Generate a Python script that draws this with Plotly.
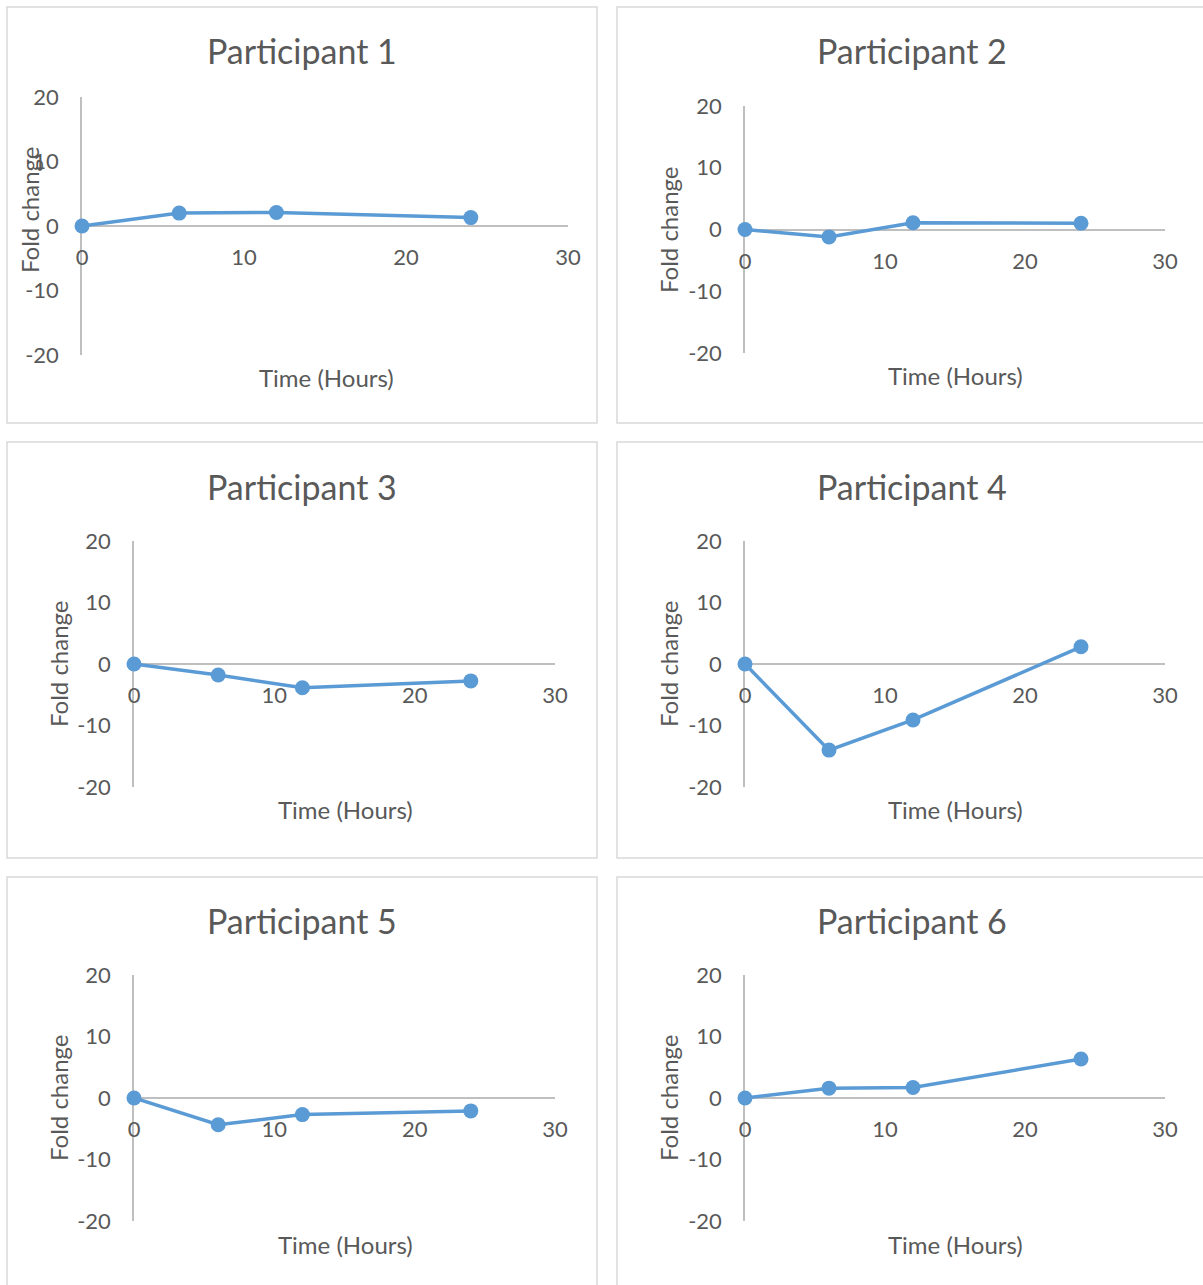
import plotly.graph_objects as go

# Sampling times (hours) shared by all participants
hours = [0, 6, 12, 24]

# Fold change per participant at each sampling time
participant_1 = [0, 2.0, 2.1, 1.3]
participant_2 = [0, -1.2, 1.1, 1.0]
participant_3 = [0, -1.8, -3.85, -2.75]
participant_4 = [0, -14.0, -9.1, 2.8]
participant_5 = [0, -4.35, -2.7, -2.1]
participant_6 = [0, 1.6, 1.7, 6.35]

panel_titles = ["Participant 1", "Participant 2", "Participant 3",
                "Participant 4", "Participant 5", "Participant 6"]
series = [participant_1, participant_2, participant_3,
          participant_4, participant_5, participant_6]

x_ticks = [0, 10, 20, 30]
y_ticks = [-20, -10, 0, 10, 20]

W, H = 1203, 1285
FONT = "Lato, 'Open Sans', sans-serif"
TEXT = "#595959"
AXIS = "#BFBFBF"
BLUE = "#5B9BD5"


def px_x(v):
    return v / W


def px_y(v):
    return 1 - v / H


# Plot-area rectangles for each panel in pixels: (left, right, top, bottom)
plot_boxes = [
    (82, 568, 97, 355),
    (745, 1165, 106, 353),
    (134, 555, 541, 787),
    (745, 1165, 541, 787),
    (134, 555, 975, 1221),
    (745, 1165, 975, 1221),
]
# Panel frames in pixels: (left, right, top, bottom)
frames = [
    (7, 597, 7, 423),
    (617, 1215, 7, 423),
    (7, 597, 442, 858),
    (617, 1215, 442, 858),
    (7, 597, 877, 1295),
    (617, 1215, 877, 1295),
]
title_pos = [(302, 51), (912, 51), (302, 486), (912, 486), (302, 920), (912, 920)]
ytitle_pos = [(30, 210), (668, 230), (58, 664), (668, 664), (58, 1098), (668, 1098)]
xtitle_pos = [(326, 377), (955, 375), (345, 809), (955, 809), (345, 1244), (955, 1244)]

fig = go.Figure()
layout = dict(
    width=W, height=H,
    margin=dict(l=0, r=0, t=0, b=0, pad=0, autoexpand=False),
    paper_bgcolor="white", plot_bgcolor="rgba(0,0,0,0)",
    showlegend=False,
    font=dict(family=FONT, color=TEXT),
)
annotations = []
shapes = []

for i, (vals, title) in enumerate(zip(series, panel_titles)):
    n = "" if i == 0 else str(i + 1)
    left, right, top, bottom = plot_boxes[i]
    ydom = [px_y(bottom), px_y(top)]
    fig.add_trace(go.Scatter(
        x=hours, y=vals, mode="lines+markers",
        line=dict(color=BLUE, width=3.5),
        marker=dict(color=BLUE, size=15),
        cliponaxis=False,
        xaxis="x" + n, yaxis="y" + n,
    ))
    layout["xaxis" + n] = dict(
        domain=[px_x(left), px_x(right)],
        range=[0, 30], tickvals=x_ticks, ticktext=[str(t) for t in x_ticks],
        anchor="free", position=(ydom[0] + ydom[1]) / 2,
        showline=True, linecolor=AXIS, linewidth=1.5,
        showgrid=False, zeroline=False, ticks="", automargin=False,
        ticklabelstandoff=12,
        tickfont=dict(size=22, color=TEXT, family=FONT),
        layer="below traces",
    )
    layout["yaxis" + n] = dict(
        domain=ydom,
        range=[-20, 20], tickvals=y_ticks, ticktext=[str(t) for t in y_ticks],
        anchor="x" + n,
        showline=True, linecolor=AXIS, linewidth=1.5,
        showgrid=False, zeroline=False, ticks="", automargin=False,
        ticklabelstandoff=17,
        tickfont=dict(size=22, color=TEXT, family=FONT),
        layer="below traces",
    )
    fl, fr, ft, fb = frames[i]
    shapes.append(dict(
        type="rect", xref="paper", yref="paper",
        x0=px_x(fl), x1=px_x(fr), y0=px_y(fb), y1=px_y(ft),
        line=dict(color="#D9D9D9", width=1.5), fillcolor="rgba(0,0,0,0)",
        layer="below",
    ))
    tx, ty = title_pos[i]
    annotations.append(dict(
        text=title, xref="paper", yref="paper", x=px_x(tx), y=px_y(ty),
        xanchor="center", yanchor="middle", showarrow=False,
        font=dict(size=34, color=TEXT, family=FONT),
    ))
    ax, ay = ytitle_pos[i]
    annotations.append(dict(
        text="Fold change", xref="paper", yref="paper", x=px_x(ax), y=px_y(ay),
        xanchor="center", yanchor="middle", showarrow=False, textangle=-90,
        font=dict(size=24, color=TEXT, family=FONT),
    ))
    bx, by = xtitle_pos[i]
    annotations.append(dict(
        text="Time (Hours)", xref="paper", yref="paper", x=px_x(bx), y=px_y(by),
        xanchor="center", yanchor="middle", showarrow=False,
        font=dict(size=24, color=TEXT, family=FONT),
    ))

layout["annotations"] = annotations
layout["shapes"] = shapes
fig.update_layout(**layout)
fig.write_html(
    "out.html",
    config={"displayModeBar": False},
    post_script="document.body.style.margin='0';",
)
